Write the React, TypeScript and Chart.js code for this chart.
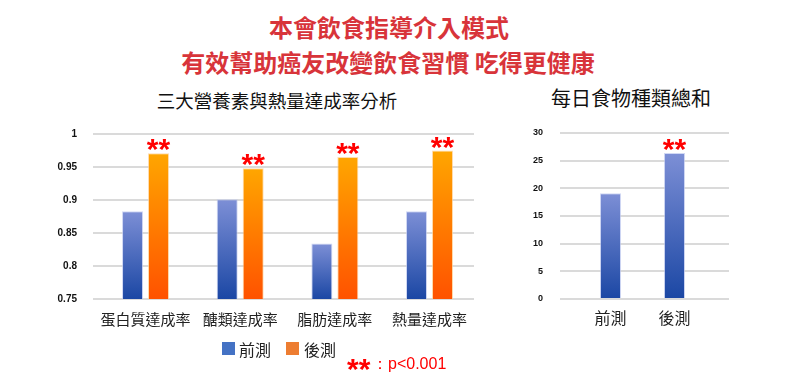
import React, { useEffect, useRef } from 'react';
import { Chart, registerables } from 'chart.js';

Chart.register(...registerables);

// ---------- data ----------
const titleLines = ['本會飲食指導介入模式', '有效幫助癌友改變飲食習慣 吃得更健康'];
const leftTitle = '三大營養素與熱量達成率分析';
const rightTitle = '每日食物種類總和';
const seriesNames = ['前測', '後測'];
const rateCategories = ['蛋白質達成率', '醣類達成率', '脂肪達成率', '熱量達成率'];
const ratePre = [0.883, 0.901, 0.834, 0.883];
const ratePost = [0.971, 0.948, 0.965, 0.975];
const rateSignificant = [true, true, true, true];
const rateTicks = [0.75, 0.8, 0.85, 0.9, 0.95, 1];
const foodCategories = ['前測', '後測'];
const foodTotals = [19.1, 26.4];
const foodSignificant = [false, true];
const foodTicks = [0, 5, 10, 15, 20, 25, 30];
const sigMark = '**';
const sigNote = '：p<0.001';

// ---------- styles ----------
const CJK = '"Noto Sans CJK TC", "Noto Sans CJK SC", "Noto Sans", sans-serif';
const LATIN = '"Liberation Sans", Arial, sans-serif';
const BLUE_TOP = '#7d8fd6';
const BLUE_BOTTOM = '#1b47a4';
const ORANGE_TOP = '#ffa600';
const ORANGE_BOTTOM = '#ff5200';
const LEGEND_COLORS = ['#4472c4', '#ed7d31'];

function barGradient(top: string, bottom: string) {
  return (context: any) => {
    const chart = context.chart;
    const { ctx, chartArea, scales } = chart;
    if (!chartArea || context.type !== 'data') return top;
    const v = context.parsed ? context.parsed.y : null;
    if (v == null) return top;
    const yTop = scales.y.getPixelForValue(v);
    const g = ctx.createLinearGradient(0, yTop, 0, chartArea.bottom);
    g.addColorStop(0, top);
    g.addColorStop(1, bottom);
    return g;
  };
}

const sigStarsPlugin = {
  id: 'sigStars',
  afterDatasetsDraw(chart: any, _args: any, opts: any) {
    const { ctx } = chart;
    const meta = chart.getDatasetMeta(opts.datasetIndex);
    const flags: boolean[] = opts.flags || [];
    ctx.save();
    ctx.font = `bold 30px ${LATIN}`;
    ctx.fillStyle = '#ff0000';
    ctx.textAlign = 'center';
    ctx.textBaseline = 'alphabetic';
    const m = ctx.measureText(sigMark);
    const desc = m.actualBoundingBoxDescent;
    meta.data.forEach((bar: any, i: number) => {
      if (!flags[i]) return;
      const target = bar.y - 2;
      ctx.fillText(sigMark, bar.x, target - desc);
    });
    ctx.restore();
  },
};

const zeroPadding = (s: any) => {
  s.paddingTop = 0;
  s.paddingBottom = 0;
  s.paddingLeft = 0;
  s.paddingRight = 0;
};

function LeftChart() {
  const ref = useRef<HTMLCanvasElement>(null);
  useEffect(() => {
    const chart = new Chart(ref.current!, {
      type: 'bar',
      data: {
        datasets: [
          {
            label: seriesNames[0],
            data: ratePre.map((v, i) => ({ x: i + 1, y: v })),
            backgroundColor: barGradient(BLUE_TOP, BLUE_BOTTOM),
            borderColor: 'rgba(190,200,240,0.7)',
            borderWidth: 1,
          },
          {
            label: seriesNames[1],
            data: ratePost.map((v, i) => ({ x: i + 1, y: v })),
            backgroundColor: barGradient(ORANGE_TOP, ORANGE_BOTTOM),
            borderColor: 'rgba(255,205,140,0.7)',
            borderWidth: 1,
          },
        ],
      },
      options: {
        animation: false,
        responsive: false,
        maintainAspectRatio: false,
        layout: { padding: { top: 14, right: 16, left: 0, bottom: 0 } },
        datasets: { bar: { categoryPercentage: 0.549, barPercentage: 0.81 } } as any,
        plugins: {
          legend: { display: false },
          tooltip: { enabled: false },
          sigStars: { datasetIndex: 1, flags: rateSignificant },
        } as any,
        scales: {
          x: {
            type: 'linear',
            offset: false,
            bounds: 'data',
            min: 0.445,
            max: 4.47,
            grid: { display: false, drawTicks: false, offset: false },
            border: { display: false },
            afterBuildTicks: (s: any) => {
              s.ticks = rateCategories.map((_, i) => ({ value: i + 1 }));
            },
            afterFit: (s: any) => {
              s.height = 41;
              zeroPadding(s);
            },
            ticks: {
              autoSkip: false,
              maxRotation: 0,
              padding: 11,
              color: '#222',
              font: { size: 15, family: CJK },
              callback: (v: any) => rateCategories[Math.round(v) - 1] ?? '',
            },
          },
          y: {
            min: rateTicks[0],
            max: rateTicks[rateTicks.length - 1],
            afterBuildTicks: (s: any) => {
              s.ticks = rateTicks.map((v) => ({ value: v }));
            },
            afterFit: (s: any) => {
              s.width = 93;
              zeroPadding(s);
            },
            grid: { color: '#dadada', lineWidth: 2, drawTicks: false },
            border: { display: false },
            ticks: {
              padding: 16,
              color: '#111',
              font: { size: 10, weight: 'bold', family: LATIN },
              callback: (v: any) => String(Math.round(v * 100) / 100),
            },
          },
        },
      } as any,
      plugins: [sigStarsPlugin],
    });
    return () => chart.destroy();
  }, []);
  return (
    <canvas
      ref={ref}
      width={490}
      height={220}
      style={{ position: 'absolute', left: 0, top: 120, width: 490, height: 220 }}
    />
  );
}

function RightChart() {
  const ref = useRef<HTMLCanvasElement>(null);
  useEffect(() => {
    const chart = new Chart(ref.current!, {
      type: 'bar',
      data: {
        datasets: [
          {
            label: rightTitle,
            data: foodTotals.map((v, i) => ({ x: i + 1, y: v })),
            backgroundColor: barGradient(BLUE_TOP, BLUE_BOTTOM),
            borderColor: 'rgba(190,200,240,0.7)',
            borderWidth: 1,
          },
        ],
      },
      options: {
        animation: false,
        responsive: false,
        maintainAspectRatio: false,
        layout: { padding: { top: 13, right: 71, left: 0, bottom: 0 } },
        datasets: { bar: { categoryPercentage: 1, barPercentage: 0.33 } } as any,
        plugins: {
          legend: { display: false },
          tooltip: { enabled: false },
          sigStars: { datasetIndex: 0, flags: foodSignificant },
        } as any,
        scales: {
          x: {
            type: 'linear',
            offset: false,
            bounds: 'data',
            min: 0.211,
            max: 2.852,
            grid: { display: false, drawTicks: false, offset: false },
            border: { display: false },
            afterBuildTicks: (s: any) => {
              s.ticks = foodCategories.map((_, i) => ({ value: i + 1 }));
            },
            afterFit: (s: any) => {
              s.height = 41;
              zeroPadding(s);
            },
            ticks: {
              autoSkip: false,
              maxRotation: 0,
              padding: 9,
              color: '#222',
              font: { size: 16, family: CJK },
              callback: (v: any) => foodCategories[Math.round(v) - 1] ?? '',
            },
          },
          y: {
            min: foodTicks[0],
            max: foodTicks[foodTicks.length - 1],
            afterBuildTicks: (s: any) => {
              s.ticks = foodTicks.map((v) => ({ value: v }));
            },
            afterFit: (s: any) => {
              s.width = 70;
              zeroPadding(s);
            },
            grid: { color: '#dadada', lineWidth: 2, drawTicks: false },
            border: { display: false },
            ticks: {
              padding: 17,
              color: '#111',
              font: { size: 9, weight: 'bold', family: LATIN },
            },
          },
        },
      } as any,
      plugins: [sigStarsPlugin],
    });
    return () => chart.destroy();
  }, []);
  return (
    <canvas
      ref={ref}
      width={310}
      height={220}
      style={{ position: 'absolute', left: 490, top: 120, width: 310, height: 220 }}
    />
  );
}

function CenteredText(props: {
  text: string;
  cx: number;
  cy: number;
  size: number;
  color: string;
  bold?: boolean;
}) {
  const { text, cx, cy, size, color, bold } = props;
  return (
    <div
      style={{
        position: 'absolute',
        left: cx,
        top: cy - size / 2,
        transform: 'translateX(-50%)',
        whiteSpace: 'pre',
        fontFamily: CJK,
        fontSize: size,
        lineHeight: `${size}px`,
        fontWeight: bold ? 700 : 400,
        color,
      }}
    >
      {text}
    </div>
  );
}

export default function App() {
  useEffect(() => {
    document.body.style.margin = '0';
  }, []);
  return (
    <div
      style={{
        position: 'fixed',
        left: 0,
        top: 0,
        width: 800,
        height: 388,
        background: '#fff',
        overflow: 'hidden',
      }}
    >
      <CenteredText text={titleLines[0]} cx={389} cy={27} size={24} color="#d8343a" bold />
      <CenteredText text={titleLines[1]} cx={388} cy={62} size={24} color="#d8343a" bold />
      <CenteredText text={leftTitle} cx={277} cy={100} size={18.5} color="#111" />
      <CenteredText text={rightTitle} cx={631} cy={98} size={20} color="#111" />
      <LeftChart />
      <RightChart />
      {seriesNames.map((name, i) => (
        <div key={name}>
          <div
            style={{
              position: 'absolute',
              left: 222 + i * 64,
              top: 342,
              width: 13,
              height: 13,
              background: LEGEND_COLORS[i],
            }}
          />
          <div
            style={{
              position: 'absolute',
              left: 239 + i * 65,
              top: 341,
              fontFamily: CJK,
              fontSize: 16,
              lineHeight: '16px',
              color: '#222',
            }}
          >
            {name}
          </div>
        </div>
      ))}
      <div
        style={{
          position: 'absolute',
          left: 347,
          top: 354,
          fontFamily: LATIN,
          fontWeight: 700,
          fontSize: 30,
          lineHeight: '30px',
          color: '#ff0000',
          whiteSpace: 'pre',
        }}
      >
        {sigMark}
      </div>
      <div
        style={{
          position: 'absolute',
          left: 372,
          top: 356,
          fontFamily: LATIN,
          fontSize: 16,
          lineHeight: '16px',
          color: '#ff0000',
          whiteSpace: 'pre',
        }}
      >
        {sigNote}
      </div>
    </div>
  );
}
